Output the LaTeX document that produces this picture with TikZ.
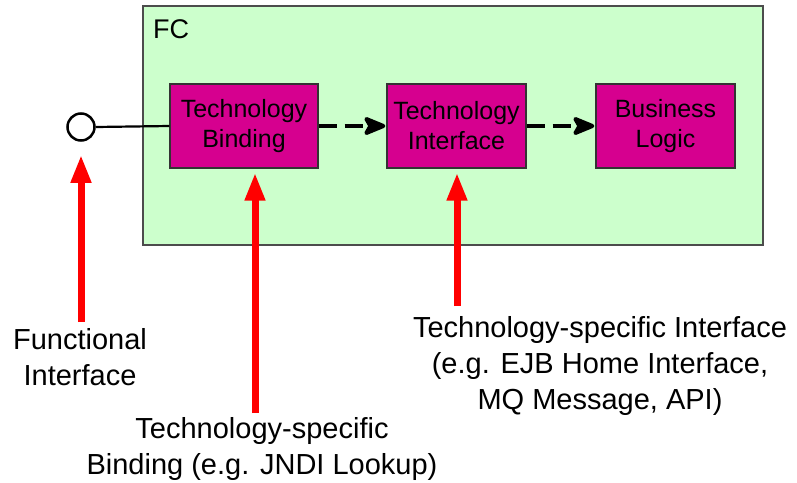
\documentclass[tikz,border=0pt]{standalone}
\usepackage{fontspec}
\setmainfont{Liberation Sans}
\usetikzlibrary{arrows.meta}
\definecolor{fcgreen}{RGB}{204,255,204}
\definecolor{boxmag}{RGB}{214,0,143}
\definecolor{arrred}{RGB}{255,0,0}
\tikzset{
  compbox/.style={draw=black!80, line width=1.2pt, fill=boxmag, minimum width=#1, minimum height=84pt, inner sep=0pt, align=center, font=\fontsize{25}{30}\selectfont},
  compbox/.default=148pt,
  redarrow/.style={draw=arrred, line width=7pt, -{Triangle[length=28pt,width=19pt]}},
  dashline/.style={draw=black, line width=4pt, dash pattern=on 18pt off 8pt, shorten >=14pt},
  dashtip/.style={draw=black, line width=4pt, line cap=round, line join=round},
  lbl/.style={align=center, font=\fontsize{29}{36}\selectfont, inner sep=0pt}
}
\begin{document}
\begin{tikzpicture}[x=1pt,y=1pt]
\useasboundingbox (0,0) rectangle (797,-482);
% FC container
\node[draw=black!70, line width=1.2pt, fill=fcgreen, minimum width=620pt, minimum height=239pt, inner sep=0pt] (fc) at (453,-125.5) {};
\node[anchor=base west, inner sep=0pt, font=\fontsize{27}{32}\selectfont] (fclbl) at (153,-38) {FC};
% components
\node[compbox=148pt] (tb) at (244,-126) {Technology\\Binding};
\node[compbox=139pt] (ti) at (456.5,-126) {Technology\\Interface};
\node[compbox=139pt] (bl) at (665.5,-126) {Business\\Logic};
% functional interface
\node[circle, draw=black, line width=2.5pt, fill=white, minimum size=27pt, inner sep=0pt] (fi) at (81,-127) {};
\draw[line width=2.2pt] (fi.east) -- (tb.west);
\draw[dashline] (tb.east) -- (ti.west);
\draw[dashline] (ti.east) -- (bl.west);
\filldraw[dashtip] ([xshift=-3pt]ti.west) -- ++(-17pt,7pt) -- ++(4pt,-7pt) -- ++(-4pt,-7pt) -- cycle;
\filldraw[dashtip] ([xshift=-3pt]bl.west) -- ++(-17pt,7pt) -- ++(4pt,-7pt) -- ++(-4pt,-7pt) -- cycle;
% labels
\node[lbl] (lfi) at (80,-357) {Functional\\Interface};
\node[lbl] (ltb) at (262,-449) {Technology-specific\\Binding (e.g. JNDI Lookup)};
\node[lbl] (lti) at (600,-366) {Technology-specific Interface\\(e.g. EJB Home Interface,\\MQ Message, API)};
% red arrows
\coordinate (sfi) at (81,-322);
\coordinate (stb) at (255,-413);
\coordinate (sti) at (457,-306);
\draw[redarrow] (sfi) -- ([yshift=-13pt]fi.south);
\draw[redarrow] (stb) -- ([yshift=-4pt]tb.south -| stb);
\draw[redarrow] (sti) -- ([yshift=-4pt]ti.south -| sti);
\end{tikzpicture}
\end{document}
